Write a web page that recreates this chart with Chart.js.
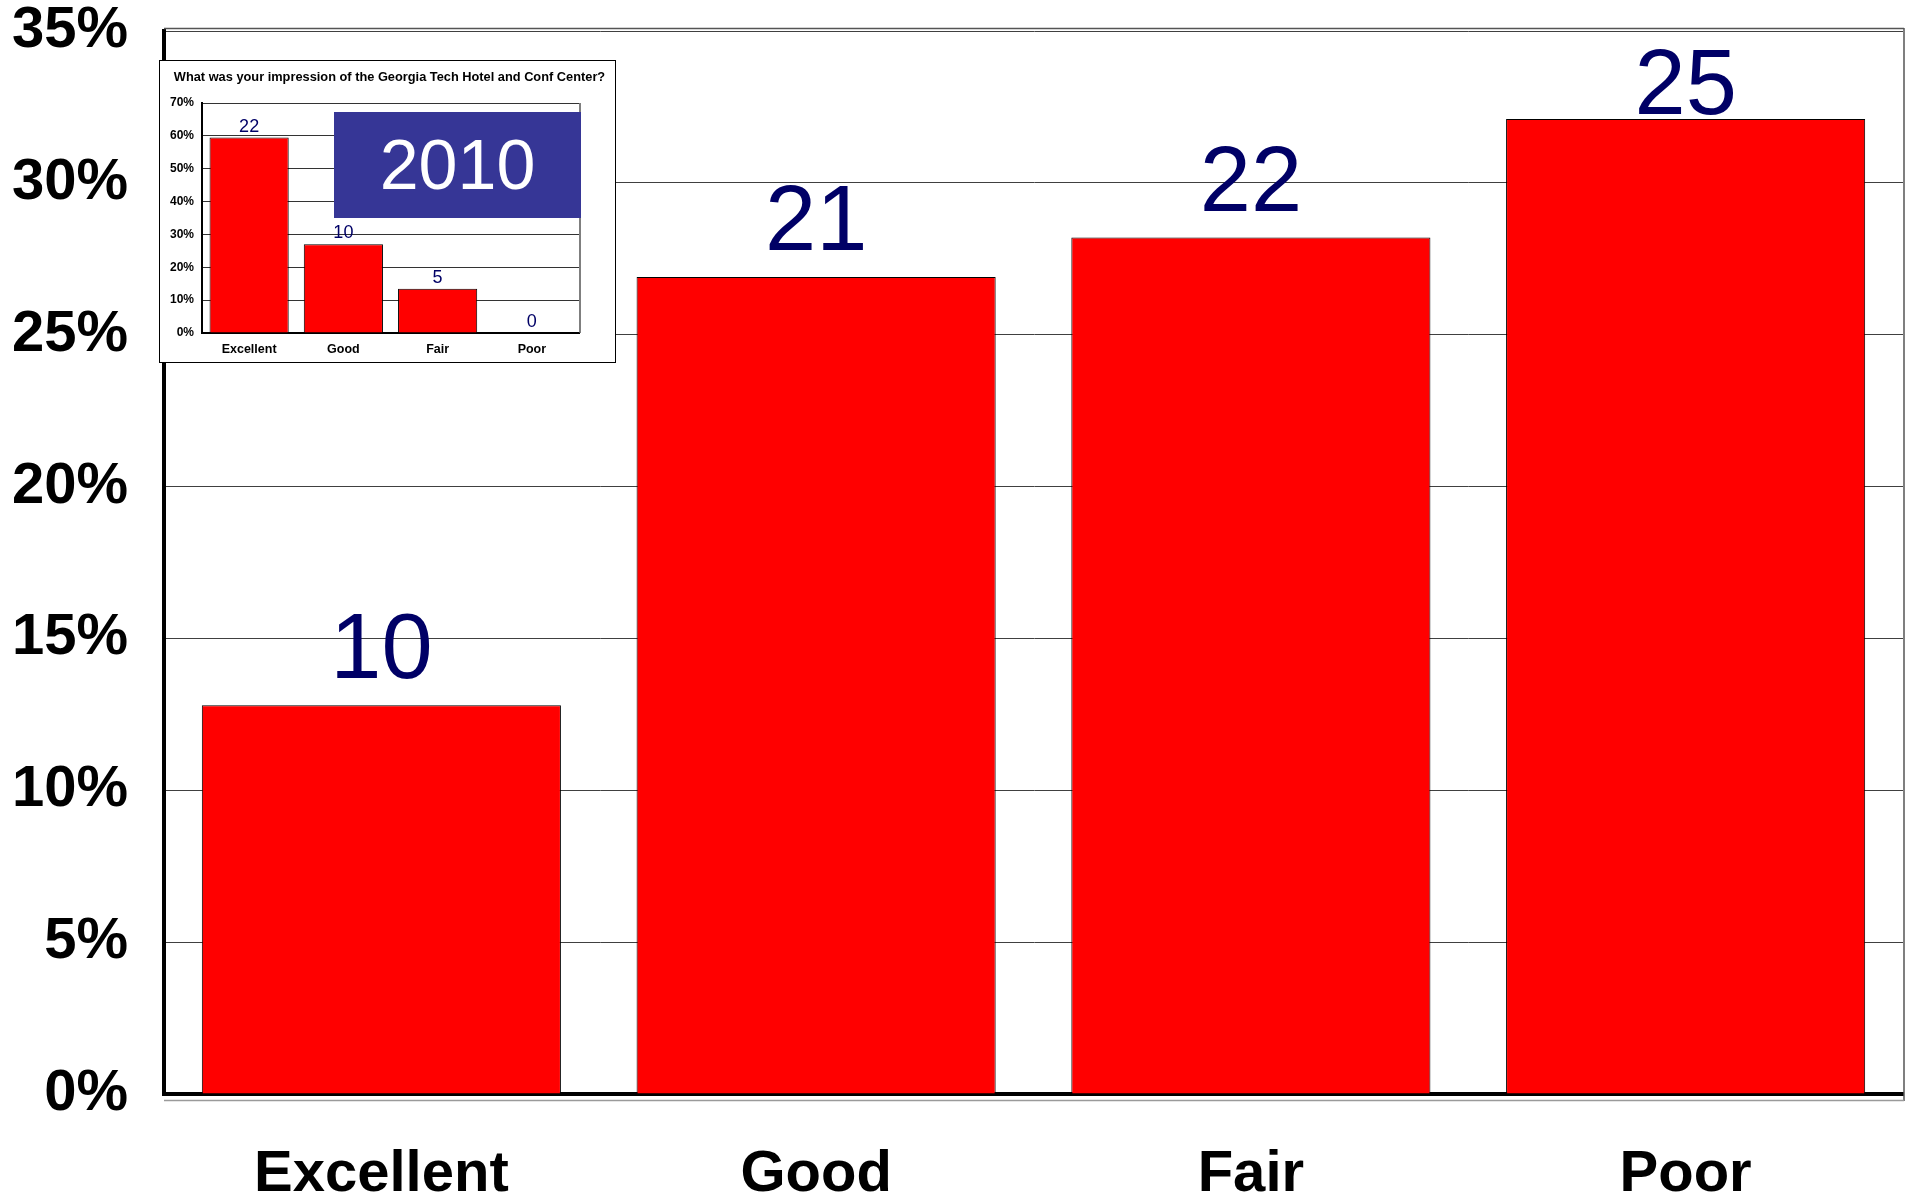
<!DOCTYPE html>
<html>
<head>
<meta charset="utf-8">
<script src="https://cdn.jsdelivr.net/npm/chart.js@4/dist/chart.umd.min.js"></script>
<style>
  html, body { margin: 0; padding: 0; background: #ffffff; }
  #wrap { position: relative; width: 1909px; height: 1197px; overflow: hidden; }
  #main { position: absolute; left: 0; top: 0; }
  #insetBox { position: absolute; left: 159px; top: 60px; width: 457px; height: 303px;
              background: #ffffff; border: 1px solid #000; box-sizing: border-box; }
  #inset { position: absolute; left: 0; top: 0; }
  #yearBox { position: absolute; left: 334px; top: 112px; width: 247px; height: 106px;
             background: #363696; color: #ffffff;
             font-family: 'Liberation Sans', Arial, sans-serif; font-size: 70px;
             display: flex; align-items: center; justify-content: center; }
</style>
</head>
<body>
<div id="wrap">
  <canvas id="main" width="1909" height="1197"></canvas>
  <div id="insetBox"><canvas id="inset" width="455" height="301"></canvas></div>
  <div id="yearBox"></div>
</div>
<script>
// ---- data ----
const categories = ['Excellent', 'Good', 'Fair', 'Poor'];
const mainCounts = [10, 21, 22, 25];
const mainPercents = [12.8, 26.9, 28.2, 32.1];
const mainYTicks = [0, 5, 10, 15, 20, 25, 30, 35];

const insetTitle = 'What was your impression of the Georgia Tech Hotel and Conf Center?';
const insetYear = '2010';
const insetCounts = [22, 10, 5, 0];
const insetPercents = [59.5, 27.0, 13.5, 0];
const insetYTicks = [0, 10, 20, 30, 40, 50, 60, 70];

document.getElementById('yearBox').textContent = insetYear;

const FONT = "'Liberation Sans', Arial, Helvetica, sans-serif";

// draws the count above each bar
const valueLabels = {
  id: 'valueLabels',
  afterDatasetsDraw(chart, args, opts) {
    const { ctx, chartArea } = chart;
    const meta = chart.getDatasetMeta(0);
    ctx.save();
    ctx.font = opts.font;
    ctx.fillStyle = opts.color;
    ctx.textAlign = 'center';
    ctx.textBaseline = 'alphabetic';
    meta.data.forEach((bar, i) => {
      let y = bar.y - opts.gap;
      y = Math.max(y, chartArea.top + opts.minTop);
      ctx.fillText(String(opts.labels[i]), bar.x, y);
    });
    ctx.restore();
  }
};

// centered title over the whole canvas
const centerTitle = {
  id: 'centerTitle',
  afterDraw(chart, args, opts) {
    if (!opts.text) return;
    const { ctx } = chart;
    ctx.save();
    ctx.font = opts.font;
    ctx.fillStyle = opts.color;
    ctx.textAlign = 'center';
    ctx.textBaseline = 'middle';
    ctx.fillText(opts.text, chart.width / 2 + opts.dx, opts.y);
    ctx.restore();
  }
};

// frame decorations (top double line, right border, floor line)
const frame = {
  id: 'frame',
  beforeDatasetsDraw(chart, args, opts) {
    const { ctx, chartArea } = chart;
    ctx.save();
    ctx.strokeStyle = opts.color;
    ctx.lineWidth = 1.5;
    ctx.beginPath();
    if (opts.topLine) {
      ctx.moveTo(chartArea.left, chartArea.top - 2.5);
      ctx.lineTo(chartArea.right + 1, chartArea.top - 2.5);
    }
    ctx.moveTo(chartArea.right + 1, chartArea.top - (opts.topLine ? 3 : 0));
    ctx.lineTo(chartArea.right + 1, chartArea.bottom + (opts.floor ? 7 : 0));
    ctx.stroke();
    if (opts.floor) {
      ctx.strokeStyle = '#9a9a9a';
      ctx.lineWidth = 1.5;
      ctx.beginPath();
      ctx.moveTo(chartArea.left, chartArea.bottom + 6.5);
      ctx.lineTo(chartArea.right + 1, chartArea.bottom + 6.5);
      ctx.stroke();
    }
    ctx.restore();
  }
};

new Chart(document.getElementById('main'), {
  type: 'bar',
  data: {
    labels: categories,
    datasets: [{
      data: mainPercents,
      backgroundColor: '#ff0000',
      borderColor: '#000000',
      borderWidth: 1,
      categoryPercentage: 1.0,
      barPercentage: 0.826
    }]
  },
  options: {
    responsive: false,
    animation: false,
    devicePixelRatio: 1,
    layout: { padding: { top: 31, right: 6, bottom: 0, left: 0 } },
    plugins: {
      legend: { display: false },
      tooltip: { enabled: false },
      title: { display: false },
      valueLabels: { labels: mainCounts, font: '92px ' + FONT, color: '#000066', gap: 27, minTop: 83 },
      frame: { color: '#555555', topLine: true, floor: true },
      centerTitle: { text: '' }
    },
    scales: {
      x: {
        grid: { display: false, drawTicks: false },
        border: { display: true, color: '#000000', width: 4 },
        ticks: { color: '#000000', padding: 52, font: { family: FONT, size: 58, weight: 'bold', lineHeight: 1 } },
        afterFit(scale) { scale.height = 103; scale.paddingLeft = 0; scale.paddingRight = 0; }
      },
      y: {
        min: mainYTicks[0],
        max: mainYTicks[mainYTicks.length - 1],
        afterBuildTicks(scale) { scale.ticks = mainYTicks.map(v => ({ value: v })); },
        grid: { color: '#404040', lineWidth: 1, drawTicks: false },
        border: { display: true, color: '#000000', width: 4 },
        ticks: {
          color: '#000000', padding: 36,
          font: { family: FONT, size: 58, weight: 'bold', lineHeight: 1 },
          callback: v => v + '%'
        },
        afterFit(scale) { scale.width = 164; scale.paddingTop = 0; scale.paddingBottom = 0; }
      }
    }
  },
  plugins: [valueLabels, frame, centerTitle]
});

new Chart(document.getElementById('inset'), {
  type: 'bar',
  data: {
    labels: categories,
    datasets: [{
      data: insetPercents,
      backgroundColor: '#ff0000',
      borderColor: '#000000',
      borderWidth: 1,
      categoryPercentage: 1.0,
      barPercentage: 0.84
    }]
  },
  options: {
    responsive: false,
    animation: false,
    devicePixelRatio: 1,
    layout: { padding: { top: 42, right: 36, bottom: 0, left: 0 } },
    plugins: {
      legend: { display: false },
      tooltip: { enabled: false },
      title: { display: false },
      centerTitle: { text: insetTitle, font: 'bold 12.8px ' + FONT, color: '#000000', y: 16.5, dx: 2 },
      valueLabels: { labels: insetCounts, font: '18px ' + FONT, color: '#000066', gap: 6, minTop: 0 },
      frame: { color: '#555555', topLine: false, floor: false }
    },
    scales: {
      x: {
        grid: { display: false, drawTicks: false },
        border: { display: true, color: '#000000', width: 2 },
        ticks: { color: '#000000', padding: 10, font: { family: FONT, size: 12.5, weight: 'bold', lineHeight: 1 } },
        afterFit(scale) { scale.height = 29; scale.paddingLeft = 0; scale.paddingRight = 0; }
      },
      y: {
        min: insetYTicks[0],
        max: insetYTicks[insetYTicks.length - 1],
        afterBuildTicks(scale) { scale.ticks = insetYTicks.map(v => ({ value: v })); },
        grid: { color: '#333333', lineWidth: 1, drawTicks: false },
        border: { display: true, color: '#000000', width: 2 },
        ticks: {
          color: '#000000', padding: 8,
          font: { family: FONT, size: 12, weight: 'bold', lineHeight: 1 },
          callback: v => v + '%'
        },
        afterFit(scale) { scale.width = 42; scale.paddingTop = 0; scale.paddingBottom = 0; }
      }
    }
  },
  plugins: [valueLabels, frame, centerTitle]
});
</script>
</body>
</html>
